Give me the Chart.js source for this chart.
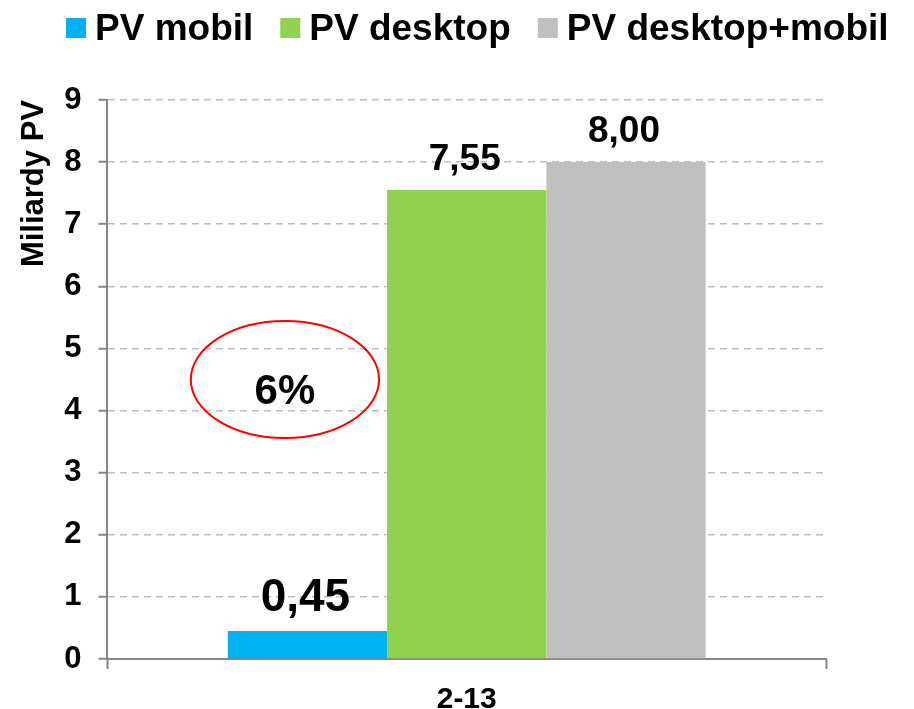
<!DOCTYPE html>
<html>
<head>
<meta charset="utf-8">
<script src="https://cdn.jsdelivr.net/npm/chart.js@4/dist/chart.umd.min.js"></script>
<style>
  html, body { margin: 0; padding: 0; background: #fff; }
  #wrap { width: 914px; height: 709px; }
</style>
</head>
<body>
<div id="wrap"><canvas id="chart" width="914" height="709"></canvas></div>
<script>
// data
const categories = ['2-13']
const seriesNames = ['PV mobil', 'PV desktop', 'PV desktop+mobil']
const mobil = [0.45]
const desktop = [7.55]
const total = [8.00]
const seriesColors = ['#00B0F0', '#92D050', '#BFBFBF']
const yTicks = [0, 1, 2, 3, 4, 5, 6, 7, 8, 9]

// the red ellipse note
const noteText = '6%'
const noteY = 4.5        // y value of ellipse centre
const noteRy = 0.94      // half height in y units
const noteXFrac = 0.247  // centre as share of plot width
const noteRxFrac = 0.131 // half width as share of plot width

const FONT = '"Liberation Sans", Arial, sans-serif'

// draws the legend on top like the original
const legendPlugin = {
    id: 'topLegend',
    afterDraw(chart) {
        const ctx = chart.ctx
        ctx.save()
        ctx.font = 'bold 37px ' + FONT
        ctx.textBaseline = 'alphabetic'
        let x = 66
        chart.data.datasets.forEach((ds, i) => {
            ctx.fillStyle = ds.backgroundColor
            ctx.fillRect(x, 18, 20, 20)
            x += 20 + 9
            ctx.fillStyle = '#000'
            ctx.fillText(ds.label, x, 40)
            x += ctx.measureText(ds.label).width + 27
        })
        ctx.restore()
    }
}

// value labels above bars
const labelPlugin = {
    id: 'valueLabels',
    afterDatasetsDraw(chart) {
        const ctx = chart.ctx
        const sizes = [46, 37, 37]
        ctx.save()
        ctx.fillStyle = '#000'
        ctx.textAlign = 'center'
        ctx.textBaseline = 'alphabetic'
        chart.data.datasets.forEach((ds, i) => {
            const meta = chart.getDatasetMeta(i)
            meta.data.forEach((bar, j) => {
                ctx.font = 'bold ' + sizes[i] + 'px ' + FONT
                const txt = ds.data[j].toFixed(2).replace('.', ',')
                ctx.fillText(txt, bar.x - 2, bar.y - 20)
            })
        })
        ctx.restore()
    }
}

const notePlugin = {
    id: 'note',
    afterDatasetsDraw(chart) {
        const ctx = chart.ctx
        const area = chart.chartArea
        const y = chart.scales.y
        const cx = area.left + noteXFrac * area.width
        const cy = y.getPixelForValue(noteY)
        const ry = y.getPixelForValue(noteY - noteRy) - cy
        const rx = noteRxFrac * area.width
        ctx.save()
        ctx.beginPath()
        ctx.ellipse(cx, cy, rx, ry, 0, 0, Math.PI * 2)
        ctx.strokeStyle = '#FF0000'
        ctx.lineWidth = 2
        ctx.stroke()
        ctx.fillStyle = '#000'
        ctx.font = 'bold 42px ' + FONT
        ctx.textAlign = 'center'
        ctx.textBaseline = 'alphabetic'
        ctx.fillText(noteText, cx, cy + 24)
        ctx.restore()
    }
}

new Chart(document.getElementById('chart'), {
    type: 'bar',
    data: {
        labels: categories,
        datasets: [
            { label: seriesNames[0], data: mobil, backgroundColor: seriesColors[0] },
            { label: seriesNames[1], data: desktop, backgroundColor: seriesColors[1] },
            { label: seriesNames[2], data: total, backgroundColor: seriesColors[2] },
        ]
    },
    options: {
        responsive: false,
        animation: false,
        layout: { padding: { top: 100, left: 16, right: 88, bottom: -22 } },
        datasets: { bar: { categoryPercentage: 0.665, barPercentage: 1.0, borderWidth: 0 } },
        plugins: {
            legend: { display: false },
            tooltip: { enabled: false },
        },
        scales: {
            x: {
                grid: { drawOnChartArea: false, drawTicks: true, tickLength: 10, tickColor: '#868686', tickWidth: 2 },
                border: { display: true, color: '#868686', width: 2 },
                ticks: { color: '#000', font: { family: FONT, size: 30, weight: 'bold', lineHeight: 1 }, padding: 16 },
            },
            y: {
                min: 0,
                max: 9,
                afterBuildTicks(scale) { scale.ticks = yTicks.map(v => ({ value: v })) },
                grid: {
                    color: '#BFBFBF',
                    lineWidth: 1.5,
                    tickColor: '#868686',
                    tickWidth: 2,
                    tickLength: 9,
                    tickBorderDash: [],
                },
                border: { display: true, color: '#868686', width: 2, dash: [7, 5] },
                ticks: { color: '#000', font: { family: FONT, size: 31, weight: 'bold' }, padding: 17 },
                title: {
                    display: true,
                    text: 'Miliardy PV',
                    color: '#000',
                    font: { family: FONT, size: 31, weight: 'bold' },
                    padding: { top: 0, bottom: -6 },
                    align: 'end',
                }
            }
        }
    },
    plugins: [legendPlugin, labelPlugin, notePlugin]
})
</script>
</body>
</html>
